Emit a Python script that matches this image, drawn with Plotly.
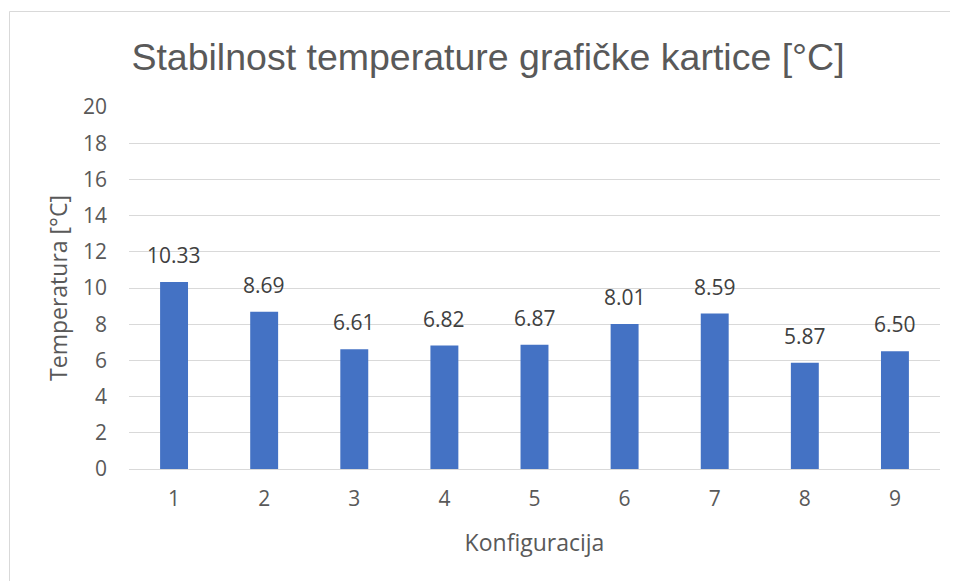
import plotly.graph_objects as go

categories = ["1", "2", "3", "4", "5", "6", "7", "8", "9"]
values = [10.33, 8.69, 6.61, 6.82, 6.87, 8.01, 8.59, 5.87, 6.50]
y_ticks = [0, 2, 4, 6, 8, 10, 12, 14, 16, 18, 20]

# page body has an 8px margin, so work in figure coords shifted by 8px
OFF = 8
W, H = 958 - OFF, 581 - OFF
L, R, T, B = 129 - OFF, 18, 107 - OFF, 112
pw, ph = W - L - R, H - T - B

def px_x(x):
    return (x - OFF - L) / pw

def px_y(y):
    return (H - B - (y - OFF)) / ph

FONT = "Open Sans, Noto Sans, sans-serif"

fig = go.Figure(go.Bar(
    x=categories, y=values,
    marker=dict(color="#4472C4", line=dict(width=0)),
    width=0.31,
))

annotations = [
    dict(x=i, y=v, xref="x", yref="y", text=f"{v:.2f}", showarrow=False,
         yanchor="bottom", yshift=11,
         font=dict(family=FONT, size=21, color="#404040"))
    for i, v in enumerate(values)
]

fig.update_layout(
    width=W, height=H,
    margin=dict(l=L, r=R, t=T, b=B),
    paper_bgcolor="white", plot_bgcolor="white",
    showlegend=False,
    title=dict(
        text="Stabilnost temperature grafičke kartice [°C]",
        font=dict(family="Liberation Sans, Arial, sans-serif", size=37.5, color="#595959"),
        x=(488 - OFF) / W, xanchor="center", y=1 - (57 - OFF) / H, yanchor="middle",
    ),
    xaxis=dict(
        type="category",
        range=[-0.5, len(categories) - 0.5],
        title=dict(text="Konfiguracija", font=dict(family=FONT, size=23, color="#595959"), standoff=23),
        tickfont=dict(family=FONT, size=21, color="#595959"),
        showgrid=False, showline=True, linecolor="#D9D9D9", linewidth=1,
        ticks="", ticklabelstandoff=11,
    ),
    yaxis=dict(
        title=dict(text="Temperatura [°C]", font=dict(family=FONT, size=23, color="#595959"), standoff=8),
        tickfont=dict(family=FONT, size=21, color="#595959"),
        range=[0, 20], tickvals=y_ticks,
        showgrid=True, gridcolor="#D9D9D9", gridwidth=1,
        zeroline=False, ticks="", ticklabelstandoff=21,
    ),
    annotations=annotations,
    shapes=[dict(
        type="rect", xref="paper", yref="paper",
        x0=px_x(9.5), x1=px_x(953.5), y0=px_y(600), y1=px_y(11.5),
        line=dict(color="#D9D9D9", width=1), fillcolor="rgba(0,0,0,0)", layer="below",
    )],
)

fig.write_html("out.html")
